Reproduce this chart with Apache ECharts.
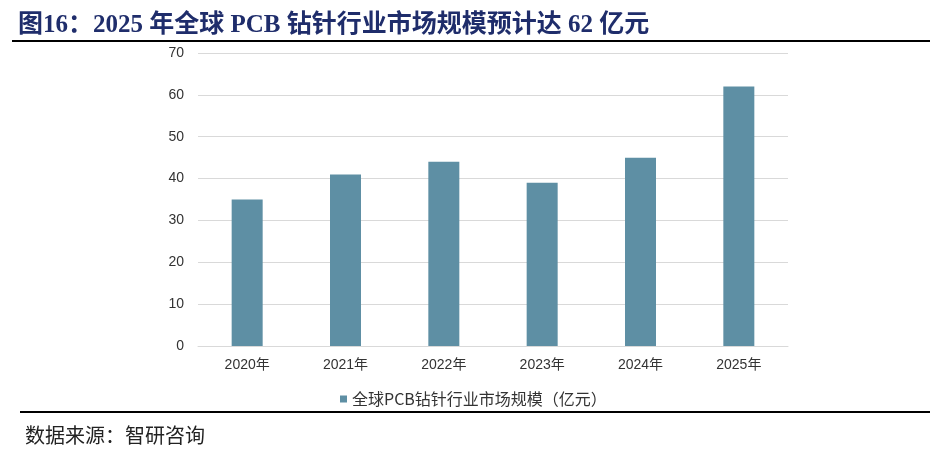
<!DOCTYPE html>
<html><head><meta charset="utf-8">
<script src="https://cdn.jsdelivr.net/npm/echarts@6/dist/echarts.min.js"></script>
<style>html,body{margin:0;padding:0;background:#fff}#c{width:944px;height:450px}</style>
</head><body><div id="c"></div>
<script>
const categories = ['2020年','2021年','2022年','2023年','2024年','2025年'];
const marketSize = [35, 41, 44, 39, 45, 62];
const seriesName = '全球PCB钻针行业市场规模（亿元）';
const titleText = '图16：2025 年全球 PCB 钻针行业市场规模预计达 62 亿元';
const sourceText = '数据来源：智研咨询';

const chart = echarts.init(document.getElementById('c'));
chart.setOption({
  animation: false,
  backgroundColor: '#fff',
  title: [
    {text: titleText, left: 13, top: 8,
     textStyle: {fontFamily: "'Liberation Serif','Noto Sans CJK SC',serif", fontWeight: 'bold', fontSize: 25, color: '#1f2d6b'}},
    {text: sourceText, left: 20, top: 420,
     textStyle: {fontFamily: "'Noto Sans CJK SC',serif", fontWeight: 'normal', fontSize: 20, color: '#222'}}
  ],
  graphic: [
    {type: 'rect', shape: {x: 12, y: 40, width: 918, height: 2}, style: {fill: '#000'}},
    {type: 'rect', shape: {x: 20, y: 411, width: 910, height: 2}, style: {fill: '#000'}}
  ],
  legend: {
    data: [seriesName], left: 335, top: 386, itemWidth: 7, itemHeight: 7, itemGap: 3,
    icon: 'rect',
    textStyle: {fontFamily: "'Noto Sans CJK SC',sans-serif", fontSize: 16, color: '#333'}
  },
  grid: {left: 198, right: 156, top: 53, bottom: 104, containLabel: false},
  xAxis: {
    type: 'category', data: categories,
    axisLine: {lineStyle: {color: '#d9d9d9'}},
    axisTick: {show: false},
    axisLabel: {margin: 12, fontSize: 14, color: '#333', fontFamily: "'Liberation Sans','Noto Sans CJK SC',sans-serif"}
  },
  yAxis: {
    type: 'value', min: 0, max: 70, interval: 10,
    axisLine: {show: false}, axisTick: {show: false},
    splitLine: {lineStyle: {color: '#d9d9d9'}},
    axisLabel: {margin: 14, fontSize: 14, color: '#333', fontFamily: "'Liberation Sans',sans-serif"}
  },
  series: [{
    name: seriesName, type: 'bar', data: marketSize, barWidth: 31,
    itemStyle: {color: '#5e8fa4'}
  }]
});
</script></body></html>
